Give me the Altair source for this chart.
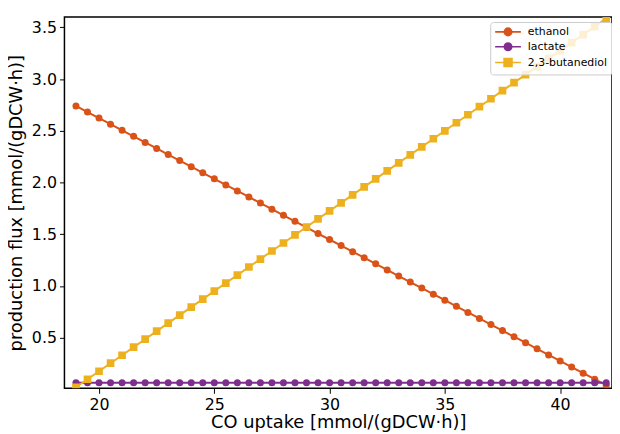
import altair as alt
import pandas as pd

co_uptake = [19.0, 19.5, 20.0, 20.5, 21.0, 21.5, 22.0, 22.5, 23.0, 23.5,
             24.0, 24.5, 25.0, 25.5, 26.0, 26.5, 27.0, 27.5, 28.0, 28.5,
             29.0, 29.5, 30.0, 30.5, 31.0, 31.5, 32.0, 32.5, 33.0, 33.5,
             34.0, 34.5, 35.0, 35.5, 36.0, 36.5, 37.0, 37.5, 38.0, 38.5,
             39.0, 39.5, 40.0, 40.5, 41.0, 41.5, 42.0]

ethanol = [2.740, 2.681, 2.623, 2.564, 2.505, 2.447, 2.388, 2.329, 2.270, 2.212,
           2.153, 2.094, 2.036, 1.977, 1.918, 1.860, 1.801, 1.742, 1.683, 1.625,
           1.566, 1.507, 1.449, 1.390, 1.331, 1.273, 1.214, 1.155, 1.096, 1.038,
           0.979, 0.920, 0.862, 0.803, 0.744, 0.686, 0.627, 0.568, 0.509, 0.451,
           0.392, 0.333, 0.275, 0.216, 0.157, 0.099, 0.040]

lactate = [0.065] * 47

butanediol = [0.020, 0.098, 0.175, 0.253, 0.330, 0.408, 0.485, 0.563, 0.640, 0.718,
              0.795, 0.873, 0.950, 1.028, 1.105, 1.183, 1.260, 1.338, 1.415, 1.493,
              1.570, 1.648, 1.725, 1.803, 1.880, 1.958, 2.035, 2.113, 2.190, 2.268,
              2.345, 2.423, 2.500, 2.578, 2.655, 2.733, 2.810, 2.888, 2.965, 3.043,
              3.120, 3.198, 3.275, 3.353, 3.430, 3.508, 3.585]

series_names = ["ethanol", "lactate", "2,3-butanediol"]
series_colors = ["#D95319", "#7E2F8E", "#EDB120"]
x_ticks = [20, 25, 30, 35, 40]
y_ticks = [0.5, 1.0, 1.5, 2.0, 2.5, 3.0, 3.5]

rows = []
for name, vals in zip(series_names, [ethanol, lactate, butanediol]):
    for xv, yv in zip(co_uptake, vals):
        rows.append({"x": xv, "y": yv, "series": name})
df = pd.DataFrame(rows)

FONT = "DejaVu Sans"

xenc = alt.X("x:Q", scale=alt.Scale(domain=[18.5, 42.25], nice=False, zero=False),
             axis=alt.Axis(title="CO uptake [mmol/(gDCW·h)]", values=x_ticks, format="d"))
yenc = alt.Y("y:Q", scale=alt.Scale(domain=[0.01, 3.6], nice=False, zero=False),
             axis=alt.Axis(title="production flux [mmol/(gDCW·h)]", values=y_ticks, format=".1f"))
# colour scale for the plotted marks (domain order differs from the legend's so
# its disabled legend is not merged with the visible one)
cscale = alt.Scale(domain=series_names[::-1], range=series_colors[::-1])
color_enc = alt.Color("series:N", scale=cscale, legend=None)

base = alt.Chart(df)

lines = base.mark_line(strokeWidth=2, clip=True).encode(
    x=xenc, y=yenc, color=color_enc, detail="series:N",
)
circles = base.transform_filter(
    alt.FieldOneOfPredicate(field="series", oneOf=["ethanol", "lactate"])
).mark_circle(opacity=1, size=50, clip=True).encode(
    x=xenc, y=yenc, color=color_enc,
)
squares = base.transform_filter(
    alt.FieldEqualPredicate(field="series", equal="2,3-butanediol")
).mark_square(opacity=1, size=60, clip=True).encode(
    x=xenc, y=yenc, color=color_enc,
)

circ = "M-1,0H4.2M0.85,0A0.75,0.75 0 1,1 2.35,0A0.75,0.75 0 1,1 0.85,0Z"
sq = "M-1,0H4.2M0.8,-0.8H2.4V0.8H0.8Z"
leg = alt.Legend(title=None, orient="none", legendX=430, legendY=5,
                 symbolSize=100, symbolStrokeWidth=1.6, labelOffset=22,
                 labelFont=FONT, labelFontSize=11, labelColor="#000",
                 fillColor="rgba(255,255,255,0.8)", strokeColor="#cccccc",
                 cornerRadius=3, padding=4, rowPadding=1, symbolOpacity=1)
legend_layer = base.mark_point(filled=True, opacity=0, clip=True).encode(
    x=xenc, y=yenc,
    fill=alt.Fill("series:N", scale=alt.Scale(domain=series_names, range=series_colors), legend=leg),
    stroke=alt.Stroke("series:N", scale=alt.Scale(domain=series_names, range=series_colors), legend=leg),
    shape=alt.Shape("series:N", scale=alt.Scale(domain=series_names, range=[circ, circ, sq]), legend=leg),
)

chart = alt.layer(lines, circles, squares, legend_layer).properties(
    width=553, height=375,
    autosize=alt.AutoSizeParams(type="none"),
    padding={"left": 57, "top": 7, "right": 0, "bottom": 44},
).configure_view(
    stroke="black", strokeWidth=1.5
).configure_axis(
    grid=False, domain=False, ticks=True, tickColor="black", tickSize=5, tickWidth=1,
    labelFont=FONT, labelFontSize=16, labelColor="black", labelPadding=3,
    titleFont=FONT, titleFontSize=18, titleFontWeight="normal", titleColor="black",
).configure_axisX(titlePadding=2, labelFlush=False).configure_axisY(titlePadding=6)

chart.save("out.html", embed_options={"renderer": "svg", "actions": False})
